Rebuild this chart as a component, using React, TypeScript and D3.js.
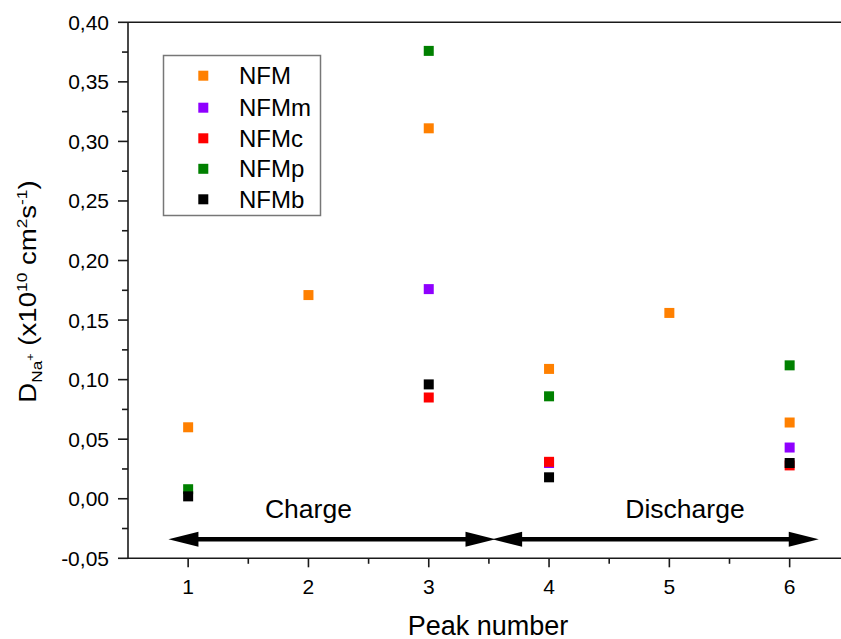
import React from "react";
import * as d3 from "d3";

// Peak numbers and diffusion coefficients (x10^10 cm^2 s^-1)
const seriesNames = ["NFM", "NFMm", "NFMc", "NFMp", "NFMb"];
const seriesColors = ["#ff8000", "#8f00ff", "#ff0000", "#008000", "#000000"];

const nfmPeaks = [1, 2, 3, 4, 5, 6];
const nfmValues = [0.06, 0.171, 0.311, 0.109, 0.156, 0.064];

const nfmmPeaks = [3, 4, 6];
const nfmmValues = [0.176, 0.03, 0.043];

const nfmcPeaks = [3, 4, 6];
const nfmcValues = [0.085, 0.031, 0.028];

const nfmpPeaks = [1, 3, 4, 6];
const nfmpValues = [0.008, 0.376, 0.086, 0.112];

const nfmbPeaks = [1, 3, 4, 6];
const nfmbValues = [0.002, 0.096, 0.018, 0.03];

const xTicks = [1, 2, 3, 4, 5, 6];
const yTicks = [-0.05, 0, 0.05, 0.1, 0.15, 0.2, 0.25, 0.3, 0.35, 0.4];

// Charge / discharge ranges on the peak axis, and the level of the arrows
const chargeSpan = [0.836, 3.555];
const dischargeSpan = [3.527, 6.242];
const arrowLevel = -0.034;
const chargeLabel = { x: 2.0, y: -0.016, text: "Charge" };
const dischargeLabel = { x: 5.13, y: -0.016, text: "Discharge" };

const FONT = "'Liberation Sans', Arial, sans-serif";

export default function App() {
  const width = 841;
  const height = 639;
  const left = 128;
  const x = d3.scaleLinear().domain([0.5, 6.5]).range([left, left + 6 * 120.3]);
  const y = d3.scaleLinear().domain([-0.05, 0.4]).range([558.3, 22.3]);

  const series = [
    { peaks: nfmPeaks, values: nfmValues },
    { peaks: nfmmPeaks, values: nfmmValues },
    { peaks: nfmcPeaks, values: nfmcValues },
    { peaks: nfmpPeaks, values: nfmpValues },
    { peaks: nfmbPeaks, values: nfmbValues },
  ];

  const fmt = (v: number) => d3.format(".2f")(v).replace(".", ",").replace("−", "-");
  const minorY = d3.range(-0.025, 0.4, 0.05);
  const minorX = d3.range(1.5, 6.6, 1);
  const axisColor = "#1a1a1a";
  const x0 = x(0.5);
  const yBottom = y(-0.05);
  const yTop = y(0.4);
  const ms = 10;

  const arrow = (span: number[], key: string) => {
    const ay = y(arrowLevel);
    const xa = x(span[0]);
    const xb = x(span[1]);
    const hl = 30;
    const hw = 7.5;
    return (
      <g key={key} fill="#000">
        <line x1={xa + hl - 2} x2={xb - hl + 2} y1={ay} y2={ay} stroke="#000" strokeWidth={4.3} />
        <polygon points={`${xa},${ay} ${xa + hl},${ay - hw} ${xa + hl},${ay + hw}`} />
        <polygon points={`${xb},${ay} ${xb - hl},${ay - hw} ${xb - hl},${ay + hw}`} />
      </g>
    );
  };

  const legendRows = [75.7, 107.7, 138.3, 168.8, 199.3];

  return (
    <svg
      width={width}
      height={height}
      style={{ position: "absolute", left: 0, top: 0, background: "#fff" }}
      fontFamily={FONT}
    >
      <rect width={width} height={height} fill="#fff" />

      {/* arrows for charge / discharge */}
      {arrow(chargeSpan, "c")}
      {arrow(dischargeSpan, "d")}
      <text x={x(chargeLabel.x)} y={y(chargeLabel.y)} fontSize={26.5} textAnchor="middle" fill="#000">
        {chargeLabel.text}
      </text>
      <text x={x(dischargeLabel.x)} y={y(dischargeLabel.y)} fontSize={26.5} textAnchor="middle" fill="#000">
        {dischargeLabel.text}
      </text>

      {/* data markers */}
      {series.map((s, i) => (
        <g key={seriesNames[i]} fill={seriesColors[i]}>
          {s.peaks.map((p, j) => (
            <rect key={j} x={x(p) - ms / 2} y={y(s.values[j]) - ms / 2} width={ms} height={ms} />
          ))}
        </g>
      ))}

      {/* axes frame */}
      <line x1={x0} x2={width} y1={yTop} y2={yTop} stroke={axisColor} strokeWidth={1.6} />
      <line x1={x0} x2={width} y1={yBottom} y2={yBottom} stroke={axisColor} strokeWidth={1.6} />
      <line x1={x0} x2={x0} y1={yTop} y2={yBottom} stroke={axisColor} strokeWidth={1.6} />

      {/* y ticks */}
      {yTicks.map((t) => (
        <g key={t}>
          <line x1={x0 - 10} x2={x0} y1={y(t)} y2={y(t)} stroke={axisColor} strokeWidth={1.6} />
          <text x={x0 - 19} y={y(t) + 7.5} fontSize={21} textAnchor="end" fill="#000">
            {fmt(t)}
          </text>
        </g>
      ))}
      {minorY.map((t) => (
        <line key={t} x1={x0 - 6} x2={x0} y1={y(t)} y2={y(t)} stroke={axisColor} strokeWidth={1.6} />
      ))}

      {/* x ticks */}
      {xTicks.map((t) => (
        <g key={t}>
          <line x1={x(t)} x2={x(t)} y1={yBottom} y2={yBottom + 9} stroke={axisColor} strokeWidth={1.6} />
          <text x={x(t)} y={yBottom + 36} fontSize={21} textAnchor="middle" fill="#000">
            {t}
          </text>
        </g>
      ))}
      {minorX.map((t) => (
        <line key={t} x1={x(t)} x2={x(t)} y1={yBottom} y2={yBottom + 5.5} stroke={axisColor} strokeWidth={1.6} />
      ))}

      {/* axis titles */}
      <text x={488} y={634.5} fontSize={27} textAnchor="middle" fill="#000">
        Peak number
      </text>
      <text
        transform="translate(36,291.5) rotate(-90) scale(1.15,1)"
        fontSize={24}
        textAnchor="middle"
        fill="#000"
      >
        D
        <tspan fontSize={15} dy={6}>Na</tspan>
        <tspan fontSize={11} dy={-8}>+</tspan>
        <tspan dy={2}> (x10</tspan>
        <tspan fontSize={15} dy={-9}>10</tspan>
        <tspan dy={9}> cm</tspan>
        <tspan fontSize={15} dy={-9}>2</tspan>
        <tspan dy={9}>s</tspan>
        <tspan fontSize={15} dy={-9}>-1</tspan>
        <tspan dy={9}>)</tspan>
      </text>

      {/* legend */}
      <rect x={163.5} y={55.5} width={157} height={160} fill="#fff" stroke="#777" strokeWidth={1.5} />
      {seriesNames.map((n, i) => (
        <g key={n}>
          <rect x={203.3 - ms / 2} y={legendRows[i] - ms / 2} width={ms} height={ms} fill={seriesColors[i]} />
          <text x={239} y={legendRows[i] + 8.5} fontSize={24} fill="#000">
            {n}
          </text>
        </g>
      ))}
    </svg>
  );
}
